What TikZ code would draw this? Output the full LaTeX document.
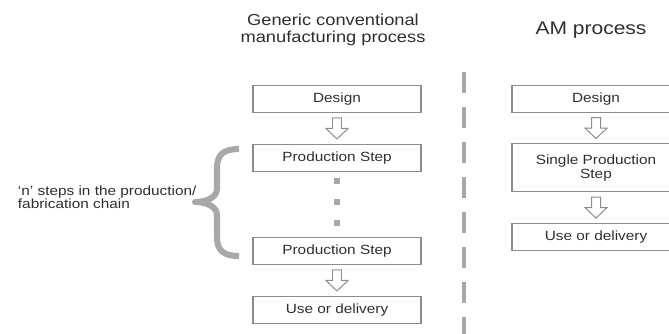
\documentclass[tikz,border=0pt]{standalone}
\usepackage{fontspec}
\setmainfont{Liberation Sans}[FakeStretch=1.15]
\usepackage{xcolor}
\usepackage{tikz}
\usetikzlibrary{arrows.meta,positioning,calc}

\definecolor{txtgray}{HTML}{2E2E2E}
\definecolor{linegray}{HTML}{8C8C8C}
\definecolor{bargray}{HTML}{A8A8A8}

\begin{document}
\begin{tikzpicture}[
      x=0.025cm, y=-0.025cm,
      font=\fontsize{9.5}{10}\selectfont,
      text=txtgray,
      node distance=0.77cm,
      box/.style={draw=linegray, line width=0.8pt, align=center, minimum width=4.2cm, minimum height=0.675cm, inner sep=2pt},
      hollow/.pic={
        \draw[linegray, line width=0.7pt, line join=miter, fill=white]
          (-4.5,-10.5) -- (4.5,-10.5) -- (4.5,0) -- (11,0) -- (0,10.5) -- (-11,0) -- (-4.5,0) -- cycle;
      },
      dotsq/.style={fill=bargray, minimum size=0.17cm, inner sep=0pt},
      title/.style={align=center, font=\fontsize{11.3}{12}\selectfont}
    ]
    \useasboundingbox (0,0) rectangle (669,334);

    % Column titles
    \node[title] (ttlconv) at (333,30) {Generic conventional\\manufacturing process};
    \node[title, font=\fontsize{13}{14}\selectfont] (ttlam) at (591,30) {AM process};

    % Left column: conventional chain
    \node[box] (designL) at (337,99) {Design};
    \node[box, below=of designL] (prodA) {Production Step};
    \node[box] (prodB) at (337,251) {Production Step};
    \node[box, below=of prodB] (useL) {Use or delivery};

    % the n steps in between
    \node[dotsq] (dotA) at (337,181) {};
    \node[dotsq] (dotB) at (337,202) {};
    \node[dotsq] (dotC) at (337,223) {};

    % Right column: AM chain
    \node[box] (designR) at (596,99) {Design};
    \node[box, below=0.75cm of designR, minimum height=1.2cm] (single) {Single Production\\Step};
    \node[box, below=of single] (useR) {Use or delivery};

    % Hollow arrows between the boxes
    \pic at ($(designL.south)!0.5!(prodA.north)$) {hollow};
    \pic at ($(prodB.south)!0.5!(useL.north)$) {hollow};
    \pic at ($(designR.south)!0.5!(single.north)$) {hollow};
    \pic at ($(single.south)!0.5!(useR.north)$) {hollow};

    % Separator between the two processes
    \coordinate (sepTop) at (464,72);
    \coordinate (sepBot) at (464,334);
    \draw[bargray, line width=3pt, dash pattern=on 0.525cm off 0.35cm] (sepTop) -- (sepBot);

    % Brace and its label
    \node[anchor=west, align=left, font=\fontsize{9.5}{9.5}\selectfont] (nsteps) at (13,197)
      {`n' steps in the production/\\fabrication chain};
    \draw[bargray, line width=4.3pt, line cap=butt, line join=round]
      (239,149) .. controls (223,149) and (217,155) .. (217,168) -- (217,189)
      .. controls (217,197) and (207,202) .. (195,202)
      .. controls (207,202) and (217,207) .. (217,215) -- (217,237)
      .. controls (217,250) and (223,256) .. (239,256);
  \end{tikzpicture}
\end{document}
